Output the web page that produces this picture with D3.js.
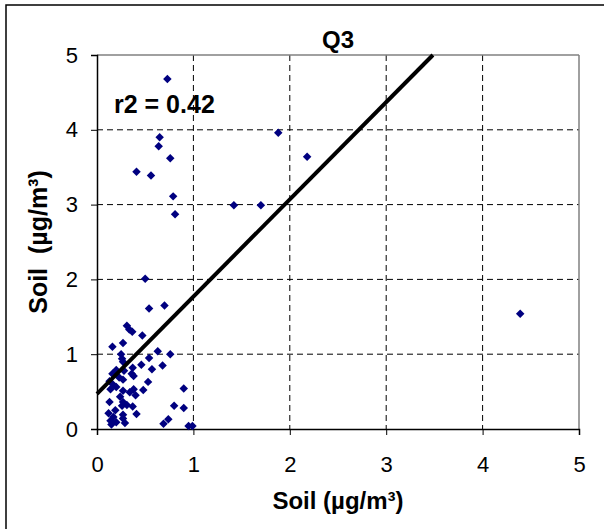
<!DOCTYPE html>
<html><head><meta charset="utf-8">
<script src="https://cdn.jsdelivr.net/npm/d3@7"></script>
<style>body{margin:0;background:#fff;} svg{display:block;font-family:"Liberation Sans",Arial,sans-serif;}</style>
</head><body>
<script>
const title = "Q3";
const xLabel = "Soil (µg/m³)";
const yLabel = "Soil  (µg/m³)";
const r2Text = "r2 = 0.42";
const xTicks = [0,1,2,3,4,5];
const yTicks = [0,1,2,3,4,5];
const fitLine = {slope: 1.30, intercept: 0.47};
const soilX = [0.73,0.65,0.64,0.76,0.41,0.56,0.79,0.81,1.88,2.18,1.42,1.70,0.50,0.54,0.70,4.39,
  0.31,0.335,0.366,0.47,0.27,0.16,0.63,0.76,0.25,0.26,0.54,0.27,0.46,0.68,0.37,0.20,0.28,0.57,
  0.16,0.36,0.38,0.23,0.27,0.13,0.53,0.17,0.20,0.14,0.38,0.48,0.90,0.27,0.34,0.40,0.24,0.13,
  0.27,0.26,0.31,0.37,0.80,0.90,0.19,0.12,0.27,0.41,0.17,0.27,0.14,0.20,0.15,0.29,0.74,0.69,0.95,0.99];
const soilY = [4.68,3.90,3.78,3.62,3.44,3.39,3.11,2.87,3.96,3.64,2.99,2.99,2.01,1.61,1.65,1.54,
  1.38,1.33,1.30,1.25,1.15,1.10,1.04,1.00,1.00,0.94,0.95,0.90,0.86,0.85,0.82,0.79,0.78,0.80,
  0.74,0.74,0.71,0.69,0.66,0.64,0.63,0.59,0.56,0.53,0.53,0.52,0.54,0.51,0.49,0.45,0.43,0.36,
  0.36,0.31,0.32,0.30,0.31,0.28,0.25,0.21,0.19,0.20,0.16,0.14,0.11,0.09,0.06,0.08,0.13,0.07,0.04,0.04];

const W = 604, H = 529;
const svg = d3.select("body").append("svg").attr("width", W).attr("height", H);
// outer frame
svg.append("rect").attr("x",6).attr("y",5).attr("width",W+10).attr("height",H+10)
  .attr("fill","none").attr("stroke","#000").attr("stroke-width",1.5);

const x = d3.scaleLinear().domain([0,5]).range([97,579]);
const y = d3.scaleLinear().domain([0,5]).range([429,55]);

// gridlines
const g = svg.append("g");
g.selectAll(".gx").data(xTicks.slice(1,-1)).enter().append("line")
  .attr("x1",d=>x(d)).attr("x2",d=>x(d)).attr("y1",y(5)).attr("y2",y(0))
  .attr("stroke","#000").attr("stroke-dasharray","6,4").attr("stroke-width",1);
g.selectAll(".gy").data(yTicks.slice(1,-1)).enter().append("line")
  .attr("y1",d=>y(d)).attr("y2",d=>y(d)).attr("x1",x(0)).attr("x2",x(5))
  .attr("stroke","#000").attr("stroke-dasharray","6,4").attr("stroke-width",1);
// plot border top/right
svg.append("line").attr("x1",x(0)).attr("x2",x(5)).attr("y1",y(5)).attr("y2",y(5)).attr("stroke","#808080").attr("stroke-width",1.5);
svg.append("line").attr("x1",x(5)).attr("x2",x(5)).attr("y1",y(5)).attr("y2",y(0)).attr("stroke","#808080").attr("stroke-width",1.5);

// axes
const xAxis = svg.append("g").attr("transform",`translate(0,${y(0)})`)
  .call(d3.axisBottom(x).tickValues(xTicks).tickSize(6).tickPadding(21).tickFormat(d3.format("d")));
const yAxis = svg.append("g").attr("transform",`translate(${x(0)},0)`)
  .call(d3.axisLeft(y).tickValues(yTicks).tickSize(6).tickPadding(13).tickFormat(d3.format("d")));
[xAxis,yAxis].forEach(a=>{
  a.select(".domain").attr("stroke","#000").attr("stroke-width",1.5);
  a.selectAll(".tick line").attr("stroke","#000");
  a.selectAll("text").attr("font-size",22).attr("fill","#000").attr("font-family","Liberation Sans, Arial, sans-serif");
});

// points
const pts = soilX.map((v,i)=>({x:v,y:soilY[i]}));
svg.append("g").selectAll("path").data(pts).enter().append("path")
  .attr("d", d3.symbol().type(d3.symbolSquare).size(36))
  .attr("transform", d=>`translate(${x(d.x)},${y(d.y)}) rotate(45)`)
  .attr("fill","#000080");

// regression line
const xEnd = (5 - fitLine.intercept)/fitLine.slope;
svg.append("line").attr("x1",x(0)).attr("y1",y(fitLine.intercept))
  .attr("x2",x(xEnd)).attr("y2",y(5)).attr("stroke","#000").attr("stroke-width",4);

// texts
svg.append("text").attr("x",(x(0)+x(5))/2).attr("y",48).attr("text-anchor","middle")
  .attr("font-size",24).attr("font-weight","bold").text(title);
svg.append("text").attr("x",114).attr("y",113)
  .attr("font-size",25).attr("font-weight","bold").text(r2Text);
svg.append("text").attr("x",(x(0)+x(5))/2).attr("y",509).attr("text-anchor","middle")
  .attr("font-size",24).attr("font-weight","bold").text(xLabel);
svg.append("text").attr("transform",`translate(47,${(y(0)+y(5))/2}) rotate(-90)`).attr("text-anchor","middle")
  .attr("font-size",25).attr("font-weight","bold").style("white-space","pre").attr("xml:space","preserve").text(yLabel);
</script>
</body></html>
